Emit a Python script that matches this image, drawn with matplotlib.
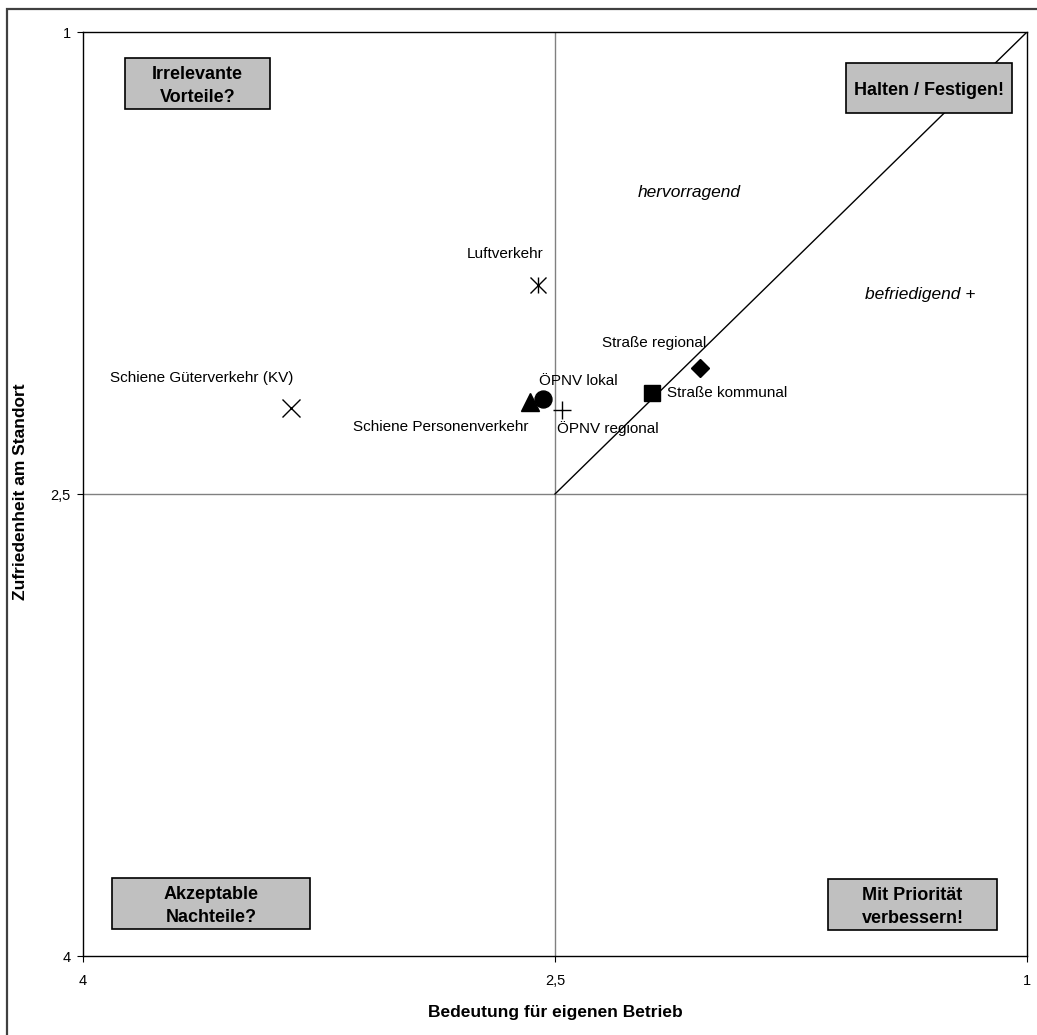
import numpy as np
import matplotlib.pyplot as plt
from matplotlib.patches import Rectangle

plt.rcParams['font.family'] = ['Liberation Sans', 'DejaVu Sans']

# Bedeutung (x) / Zufriedenheit (y), Skala 1 (gut) bis 4 (schlecht)
names = ["Luftverkehr", "Schiene Güterverkehr (KV)", "Schiene Personenverkehr",
         "ÖPNV lokal", "ÖPNV regional", "Straße kommunal", "Straße regional"]
bedeutung = [2.554, 3.339, 2.579, 2.538, 2.478, 2.192, 2.039]
zufriedenheit = [1.821, 2.221, 2.201, 2.192, 2.227, 2.172, 2.091]

markers = [["x", "|"], ["x"], ["^"], ["o"], ["+"], ["s"], ["D"]]
msizes = [12, 13, 13, 12.2, 13, 12.2, 9]
# label offsets in pixels, alignment
offsets = [(-33, 31, "center"), (2, 30, "right"), (-2, -25, "right"),
           (-4, 18, "left"), (-5, -19, "left"), (15, 0, "left"), (-98, 25, "left")]

W, H = 1037, 1035
fig = plt.figure(figsize=(W / 100, H / 100), dpi=100)
ax = fig.add_axes([83 / W, (H - 956) / H, 944 / W, 924 / H])

ax.set_xlim(4, 1)
ax.set_ylim(4, 1)
ax.set_xticks([4, 2.5, 1])
ax.set_xticklabels(["4", "2,5", "1"])
ax.set_yticks([1, 2.5, 4])
ax.set_yticklabels(["1", "2,5", "4"])
ax.tick_params(axis='both', direction='out', length=4, width=0.8, labelsize=10.5, pad=5)
ax.tick_params(axis='x', pad=9)
for s in ax.spines.values():
    s.set_linewidth(1.0)

ax.axvline(2.5, color='#808080', lw=1.0, zorder=1)
ax.axhline(2.5, color='#808080', lw=1.0, zorder=1)
ax.plot([2.5, 1], [2.5, 1], color='black', lw=1.0, zorder=1)

for i in range(len(names)):
    for m in markers[i]:
        ax.plot(bedeutung[i], zufriedenheit[i], marker=m, markersize=msizes[i],
                color='black', markeredgewidth=1.0, linestyle='', zorder=3)
    dx, dy, ha = offsets[i]
    ax.annotate(names[i], (bedeutung[i], zufriedenheit[i]), xytext=(dx, dy),
                textcoords='offset pixels', ha=ha, va='center', fontsize=11)


def fig_xy(px, py):
    return px / W, 1 - py / H


x, y = fig_xy(689, 192)
fig.text(x, y, "hervorragend", style='italic', fontsize=12.5, ha='center', va='center')
x, y = fig_xy(920, 295)
fig.text(x, y, "befriedigend +", style='italic', fontsize=12.5, ha='center', va='center')

boxes = [((125, 58, 270, 109), "Irrelevante\nVorteile?"),
         ((846, 63, 1012, 113), "Halten / Festigen!"),
         ((112, 878, 310, 929), "Akzeptable\nNachteile?"),
         ((828, 879, 997, 930), "Mit Priorität\nverbessern!")]
for (x0, y0, x1, y1), txt in boxes:
    fx0, fy1 = fig_xy(x0, y1)
    fig.patches.append(Rectangle((fx0, fy1), (x1 - x0) / W, (y1 - y0) / H,
                                 transform=fig.transFigure, facecolor='#c0c0c0',
                                 edgecolor='black', lw=1.2, zorder=5))
    cx, cy = fig_xy((x0 + x1) / 2, (y0 + y1) / 2 + 2.5)
    fig.text(cx, cy, txt, fontsize=13, fontweight='bold', ha='center', va='center',
             linespacing=1.45, zorder=6)

x, y = fig_xy(555, 1012)
fig.text(x, y, "Bedeutung für eigenen Betrieb", fontsize=12.5, fontweight='bold',
         ha='center', va='center')
x, y = fig_xy(21, 492)
fig.text(x, y, "Zufriedenheit am Standort", fontsize=12.5, fontweight='bold',
         ha='center', va='center', rotation=90)

# outer frame
fig.patches.append(Rectangle((7 / W, -0.1), 1.2, 1.1 - 9 / H, transform=fig.transFigure,
                             facecolor='none', edgecolor='#404040', lw=1.6))

fig.savefig("out.png", dpi=100)
